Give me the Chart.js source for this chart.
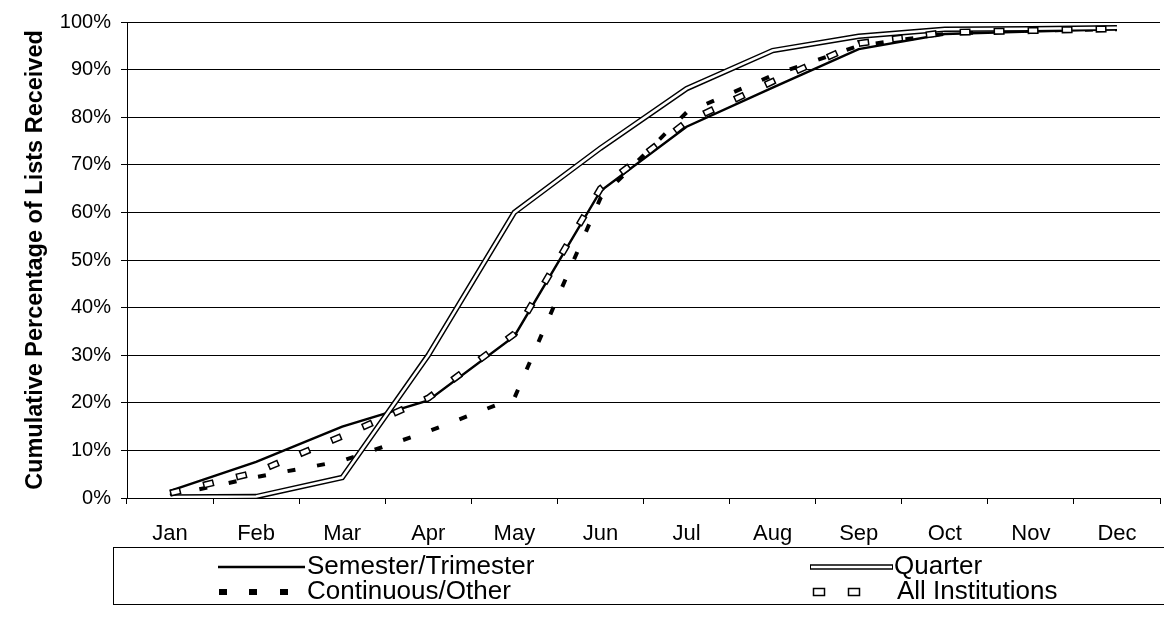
<!DOCTYPE html>
<html>
<head>
<meta charset="utf-8">
<script src="https://cdn.jsdelivr.net/npm/chart.js@4.4.1/dist/chart.umd.min.js"></script>
<style>
  html, body { margin: 0; padding: 0; background: #fff; }
  #wrap { width: 1164px; height: 619px; position: relative; }
</style>
</head>
<body>
<div id="wrap"><canvas id="c" width="1164" height="619"></canvas></div>
<script>
const months = ['Jan','Feb','Mar','Apr','May','Jun','Jul','Aug','Sep','Oct','Nov','Dec'];
const semester   = [1.5, 7.6, 15.0, 20.5, 34.0, 64.5, 78.0, 86.2, 94.3, 97.5, 98.0, 98.5];
const quarter    = [0.2, 0.3, 4.3, 30.0, 60.0, 73.5, 86.0, 94.0, 97.0, 98.5, 98.6, 98.8];
const continuous = [0.5, 4.4, 7.8, 14.0, 21.0, 63.0, 81.0, 88.8, 95.0, 97.5, 98.2, 98.5];
const allInst    = [1.0, 5.4, 13.0, 21.0, 34.5, 65.0, 79.0, 87.5, 95.5, 97.8, 98.2, 98.6];
const yTicks = [0,10,20,30,40,50,60,70,80,90,100];
const yTitle = 'Cumulative Percentage of Lists Received';
const legendNames = ['Semester/Trimester','Quarter','Continuous/Other','All Institutions'];

const FONT = "'Liberation Sans', Arial, sans-serif";

const base = { pointRadius: 0, pointHoverRadius: 0, tension: 0, fill: false, borderCapStyle: 'butt', borderJoinStyle: 'miter' };

const legendPlugin = {
  id: 'customLegend',
  afterDraw(chart) {
    const ctx = chart.ctx;
    ctx.save();
    ctx.strokeStyle = '#000';
    ctx.lineWidth = 1;
    ctx.strokeRect(113.5, 547.5, 1060, 57);
    const r1 = 567, r2 = 592;
    ctx.beginPath(); ctx.lineWidth = 2.5; ctx.moveTo(218, r1); ctx.lineTo(305, r1); ctx.stroke();
    ctx.beginPath(); ctx.lineWidth = 5.5; ctx.moveTo(810, r1); ctx.lineTo(893, r1); ctx.stroke();
    ctx.beginPath(); ctx.strokeStyle = '#fff'; ctx.lineWidth = 2.5; ctx.moveTo(811, r1); ctx.lineTo(892, r1); ctx.stroke();
    ctx.fillStyle = '#000';
    [219, 249, 280].forEach(x => ctx.fillRect(x, r2 - 3, 8, 6));
    ctx.strokeStyle = '#000'; ctx.lineWidth = 1.5;
    [813, 848].forEach(x => ctx.strokeRect(x + 0.5, r2 - 3.5, 11, 7));
    ctx.fillStyle = '#000';
    ctx.font = '26px ' + FONT;
    ctx.textBaseline = 'middle';
    ctx.textAlign = 'left';
    ctx.fillText(legendNames[0], 307, r1);
    ctx.fillText(legendNames[1], 894, r1);
    ctx.fillText(legendNames[2], 307, r2);
    ctx.fillText(legendNames[3], 897, r2);
    ctx.restore();
  }
};

new Chart(document.getElementById('c'), {
  type: 'line',
  data: {
    labels: months,
    datasets: [
      Object.assign({ label: legendNames[2], data: continuous, borderColor: '#000', borderWidth: 4, borderDash: [8, 22], order: 6 }, base),
      Object.assign({ label: legendNames[0], data: semester, borderColor: '#000', borderWidth: 2.5, order: 5 }, base),
      Object.assign({ label: legendNames[1], data: quarter, borderColor: '#000', borderWidth: 5.5, order: 4 }, base),
      Object.assign({ label: legendNames[1] + ' inner', data: quarter, borderColor: '#fff', borderWidth: 2.5, order: 3 }, base),
      Object.assign({ label: legendNames[3], data: allInst, borderColor: '#000', borderWidth: 7, borderDash: [11, 23], order: 2 }, base),
      Object.assign({ label: legendNames[3] + ' inner', data: allInst, borderColor: '#fff', borderWidth: 4, borderDash: [8, 26], borderDashOffset: -1.5, order: 1 }, base)
    ]
  },
  options: {
    responsive: false,
    animation: false,
    devicePixelRatio: 1,
    layout: { padding: { left: 0, right: 4, top: 20, bottom: 71 } },
    plugins: { legend: { display: false }, tooltip: { enabled: false }, title: { display: false } },
    scales: {
      x: {
        type: 'category',
        offset: true,
        grid: { display: true, drawOnChartArea: false, drawTicks: true, offset: true, tickLength: 6, color: '#000', lineWidth: 1 },
        border: { display: true, color: '#000', width: 1 },
        ticks: { color: '#000', font: { family: FONT, size: 22 }, padding: 17, maxRotation: 0, autoSkip: false },
        afterFit(s) { s.height = 50; }
      },
      y: {
        type: 'linear',
        min: 0, max: 100,
        afterBuildTicks(s) { s.ticks = yTicks.map(v => ({ value: v })); },
        grid: { display: true, drawOnChartArea: true, drawTicks: true, tickLength: 6, color: '#000', lineWidth: 1 },
        border: { display: true, color: '#000', width: 1 },
        ticks: { color: '#000', font: { family: FONT, size: 20 }, padding: 10, callback: v => v + '%' },
        title: { display: true, text: yTitle, color: '#000', font: { family: FONT, size: 23.5, weight: 'bold' }, padding: { top: 21, bottom: 0 } },
        afterFit(s) { s.width = 127; }
      }
    }
  },
  plugins: [legendPlugin]
});
</script>
</body>
</html>
